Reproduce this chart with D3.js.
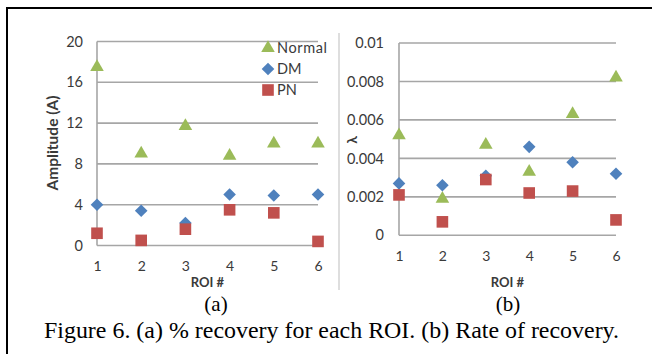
<!DOCTYPE html>
<html><head><meta charset="utf-8">
<script src="https://cdn.jsdelivr.net/npm/d3@7"></script>
<style>html,body{margin:0;padding:0;background:#fff;}svg{display:block;}</style>
</head><body>
<svg id="c" width="652" height="354"></svg>
<script>
const categories = [1, 2, 3, 4, 5, 6];
const ampNormal = [17.5, 9.0, 11.7, 8.8, 10.0, 10.0];
const ampDM = [4.0, 3.4, 2.2, 5.0, 4.9, 5.0];
const ampPN = [1.2, 0.5, 1.6, 3.5, 3.2, 0.4];
const rateNormal = [0.0052, 0.0019, 0.0047, 0.0033, 0.0063, 0.0082];
const rateDM = [0.0027, 0.0026, 0.0031, 0.0046, 0.0038, 0.0032];
const ratePN = [0.0021, 0.0007, 0.0029, 0.0022, 0.0023, 0.0008];
const ampTicks = [0, 4, 8, 12, 16, 20];
const rateTicks = [0, 0.002, 0.004, 0.006, 0.008, 0.01];
const rateTickLabels = ["0", "0.002", "0.004", "0.006", "0.008", "0.01"];
const seriesNames = ["Normal", "DM", "PN"];
const colors = {Normal: "#9BBB59", DM: "#4F81BD", PN: "#C0504D"};

const svg = d3.select("#c");
const FONT = "Lato, 'Open Sans', sans-serif";
const TXT = "#3a3a3a";

// frame
svg.append("line").attr("x1", 6).attr("x2", 652).attr("y1", 8).attr("y2", 8).attr("stroke", "#000").attr("stroke-width", 2.2);
svg.append("line").attr("x1", 7).attr("x2", 7).attr("y1", 7).attr("y2", 354).attr("stroke", "#000").attr("stroke-width", 2);
// separator
svg.append("line").attr("x1", 339).attr("x2", 339).attr("y1", 33).attr("y2", 290).attr("stroke", "#bdbdbd").attr("stroke-width", 1);

function symbolFor(name) {
  if (name === "Normal") return d3.symbol().type(d3.symbolTriangle).size(80)();
  if (name === "DM") return "M0,-6.3L6.3,0L0,6.3L-6.3,0Z";
  return d3.symbol().type(d3.symbolSquare).size(135)();
}

function panel(opts) {
  const g = svg.append("g");
  const x = d3.scaleLinear().domain([1, 6]).range([opts.x0, opts.x1]);
  const y = d3.scaleLinear().domain(opts.domain).range([opts.y0, opts.y1]);
  g.selectAll(".grid").data(opts.ticks).enter().append("line")
    .attr("x1", opts.x0).attr("x2", opts.x1)
    .attr("y1", d => y(d)).attr("y2", d => y(d))
    .attr("stroke", "#a6a6a6").attr("stroke-width", 1.6);
  g.append("line").attr("x1", opts.x0).attr("x2", opts.x0).attr("y1", y(opts.domain[1])).attr("y2", y(opts.domain[0]))
    .attr("stroke", "#a6a6a6").attr("stroke-width", 1.6);
  const yAxis = d3.axisLeft(y).tickValues(opts.ticks).tickFormat((d, i) => opts.tickLabels[i]).tickSize(0).tickPadding(opts.pad);
  const ya = g.append("g").attr("transform", `translate(${opts.x0},0)`).call(yAxis);
  ya.select(".domain").remove();
  ya.selectAll("text").attr("font-family", FONT).attr("font-size", 14.5).attr("fill", TXT);
  const xAxis = d3.axisBottom(x).tickValues(categories).tickFormat(d3.format("d")).tickSize(0).tickPadding(opts.xpad);
  const xa = g.append("g").attr("transform", `translate(0,${opts.y0})`).call(xAxis);
  xa.select(".domain").remove();
  xa.selectAll("text").attr("font-family", FONT).attr("font-size", 14).attr("fill", TXT);
  g.append("text").attr("x", (opts.x0 + opts.x1) / 2).attr("y", 287).attr("text-anchor", "middle")
    .attr("font-family", FONT).attr("font-weight", "bold").attr("font-size", 13).attr("fill", TXT).text("ROI #");
  g.append("text").attr("transform", `translate(${opts.ytx},${opts.yty}) rotate(-90)`).attr("text-anchor", "middle")
    .attr("font-family", FONT).attr("font-weight", "bold").attr("font-size", opts.ytSize).attr("fill", TXT).text(opts.ytitle);
  opts.series.forEach((vals, si) => {
    const name = seriesNames[si];
    g.selectAll(".s" + si).data(vals).enter().append("path")
      .attr("d", symbolFor(name))
      .attr("transform", (d, i) => `translate(${x(categories[i])},${y(d)})`)
      .attr("fill", colors[name]);
  });
  return {x, y};
}

panel({x0: 97, x1: 318, y0: 245.5, y1: 41.5, domain: [0, 20], ticks: ampTicks, tickLabels: ampTicks.map(String),
  pad: 14, xpad: 16, series: [ampNormal, ampDM, ampPN], ytitle: "Amplitude (A)", ytx: 58, yty: 143, ytSize: 15.5});
panel({x0: 399, x1: 616, y0: 235.3, y1: 43, domain: [0, 0.01], ticks: rateTicks, tickLabels: rateTickLabels,
  pad: 15, xpad: 16, series: [rateNormal, rateDM, ratePN], ytitle: "λ", ytx: 357, yty: 140, ytSize: 14});

// legend
const leg = svg.append("g");
seriesNames.forEach((name, i) => {
  const ly = 48 + i * 21;
  leg.append("path").attr("d", symbolFor(name)).attr("transform", `translate(268,${ly})`).attr("fill", colors[name]);
  leg.append("text").attr("x", 277).attr("y", ly).attr("dy", "0.36em").attr("font-family", FONT)
    .attr("font-size", 14.5).attr("fill", TXT).attr("letter-spacing", name === "Normal" ? 0.6 : 0).text(name);
});

// captions
const SERIF = "'Liberation Serif', 'Times New Roman', serif";
svg.append("text").attr("x", 216).attr("y", 311).attr("text-anchor", "middle").attr("font-family", SERIF).attr("font-size", 21).attr("fill", "#000").text("(a)");
svg.append("text").attr("x", 508).attr("y", 311).attr("text-anchor", "middle").attr("font-family", SERIF).attr("font-size", 21).attr("fill", "#000").text("(b)");
svg.append("text").attr("x", 44).attr("y", 338).attr("font-family", SERIF).attr("font-size", 23.5).attr("fill", "#000")
  .attr("textLength", 575).attr("lengthAdjust", "spacingAndGlyphs")
  .text("Figure 6. (a) % recovery for each ROI. (b) Rate of recovery.");
</script>
</body></html>
